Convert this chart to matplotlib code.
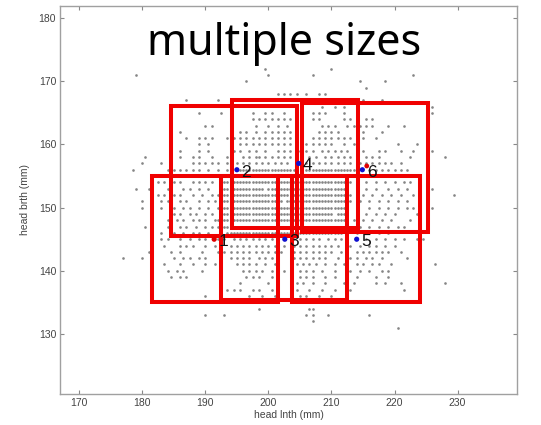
import matplotlib
matplotlib.use('Agg')
import matplotlib.pyplot as plt
import matplotlib.patches as mpatches

# head breadth rows (mm) and the head lengths (mm) found on each row
breadth_rows = [172, 171, 170, 169, 168, 167, 166, 165, 164, 163, 162, 161, 160,
                159, 158, 157, 156, 155, 154, 153, 152, 151, 150, 149, 148, 147,
                146, 145, 144, 143, 142, 141, 140, 139, 138, 137, 136, 135, 134,
                133, 132, 131]
length_rows = [
    [199.5, 210],
    [179, 200, 207, 223],
    [196.5, 214.5, 218.5],
    [215.5],
    [201.5, 202.5, 203.5, 204.5, 206, 208, 209],
    [187, 192, 198, 207.5, 215, 218],
    [208.5, 210.5, 212, 226],
    [189, 192.5, 197.5, 199.5, 200.5, 202.5, 207, 208, 209, 212, 226],
    [197.5, 198.5, 199.5, 200.5, 201.5, 202.5, 203.5, 204.5, 207, 208, 212, 213,
     214, 215.5, 216.5],
    [190, 191, 198, 200, 201.5, 203, 208.5, 209.5, 210.5, 212.5, 213.5, 214.5,
     215.5, 216.5, 219, 221.5],
    [186, 195.5, 196.5, 198, 199.5, 200.5, 201.5, 202.5, 203.5, 208, 209, 210,
     211, 215, 218],
    [187, 189, 190, 191, 193.5, 194.5, 195.5, 196.5, 197.5, 198.5, 199.5, 200.5,
     201.5, 202.5, 203.5, 204.5, 207, 208, 209, 210, 211, 212, 213, 215, 217],
    [189, 190.5, 195.5, 196.5, 197.5, 198.5, 199.5, 200.5, 201.5, 202.5, 203.5,
     206, 207, 208, 209, 210, 212, 213.5, 220.5, 223.5],
    [186, 189, 190.5, 194.5, 195.5, 197, 198, 199.5, 201.5, 202.5, 203.5, 205,
     206, 207, 208.5, 209.5, 210.5, 211.5, 212.5, 215, 217.5, 218.5, 221, 223, 226],
    [180.5, 186, 188, 189, 191, 193.5, 196, 197, 198, 198.5, 199.5, 200.5, 201.5,
     202.5, 203.5, 204.5, 206.5, 207.5, 209, 210, 211, 212, 213, 214, 215.5,
     216.5, 217.5, 222.5, 228],
    [180, 183, 188, 189, 190, 191, 192, 193.5, 195, 196, 197, 198, 199, 200, 201,
     202, 203, 204.5, 206, 207, 208, 209, 210, 211, 212, 213, 214.5, 215.5, 216.5,
     217.5, 218.5, 219.5, 221],
    [178.5, 184, 185, 186, 187, 188, 189, 190.5, 192, 193.5, 195, 195.5, 196,
     196.5, 197, 197.5, 198, 198.5, 199, 199.5, 200, 200.5, 201, 201.5, 202,
     202.5, 203, 203.5, 204, 206, 206.5, 207, 207.5, 208, 208.5, 209, 209.5, 210,
     210.5, 211, 211.5, 212, 212.5, 213, 213.5, 214, 216, 217, 218, 219, 220,
     221, 222],
    [186.5, 192.5, 193, 193.5, 194, 194.5, 195, 195.5, 196, 196.5, 197, 197.5,
     198, 198.5, 199, 199.5, 200, 200.5, 201, 201.5, 202, 202.5, 203, 205.5, 206,
     206.5, 207, 207.5, 208, 208.5, 209, 209.5, 210, 210.5, 211, 211.5, 212,
     212.5, 216, 220],
    [182.5, 183.5, 185, 186, 188, 189, 190, 191, 193, 193.5, 194, 194.5, 195,
     195.5, 196, 196.5, 197, 197.5, 198, 198.5, 199, 199.5, 200, 200.5, 201,
     201.5, 202, 202.5, 203, 203.5, 204, 204.5, 205, 205.5, 206, 206.5, 207,
     207.5, 208, 208.5, 209, 209.5, 210, 210.5, 211, 211.5, 212, 212.5, 213,
     215.5, 217, 218.5, 220, 221.5, 222.5],
    [179, 181, 184, 186.5, 187.5, 189, 190.5, 193, 193.5, 194, 194.5, 195, 195.5,
     196, 196.5, 197, 197.5, 198, 198.5, 199, 200, 200.5, 201, 201.5, 202, 202.5,
     203, 203.5, 204, 205, 205.5, 206, 206.5, 207, 207.5, 208, 208.5, 209, 209.5,
     210, 210.5, 211, 211.5, 212, 212.5, 214, 215.5, 217, 219, 220.5, 222, 226],
    [182.5, 183.5, 185, 186, 188, 189.5, 191, 192, 192.5, 193, 193.5, 194, 194.5,
     195, 195.5, 196, 196.5, 197, 197.5, 198, 198.5, 199, 199.5, 200, 200.5, 201,
     201.5, 202, 202.5, 203, 204, 204.5, 205, 205.5, 206, 206.5, 207, 207.5, 208,
     208.5, 209, 209.5, 210, 210.5, 211, 211.5, 212, 212.5, 213, 215, 216.5, 218,
     219.5, 221, 223, 229.5],
    [180, 183, 184, 186, 187, 189, 190.5, 191.5, 193, 193.5, 194, 194.5, 195,
     195.5, 196, 196.5, 197, 197.5, 198, 198.5, 199, 199.5, 200, 200.5, 201,
     201.5, 202, 203, 203.5, 204, 204.5, 205, 205.5, 206, 206.5, 207, 207.5, 208,
     208.5, 209, 209.5, 210, 210.5, 211, 211.5, 212, 212.5, 213, 214.5, 216,
     217.5, 219, 220.5, 222],
    [180, 183, 185, 186.5, 187.5, 189, 190.5, 192, 192.5, 193, 193.5, 194, 194.5,
     195, 195.5, 196, 196.5, 197, 197.5, 198, 198.5, 199, 199.5, 200, 200.5, 201,
     201.5, 202, 202.5, 203, 203.5, 204, 205, 205.5, 206, 206.5, 207, 207.5, 208,
     208.5, 209, 209.5, 210, 210.5, 211, 211.5, 212, 214, 216, 217.5, 219, 220.5,
     222, 223, 226],
    [185, 186, 187.5, 188.5, 190, 191, 192.5, 193, 193.5, 194, 194.5, 195, 195.5,
     196, 196.5, 197, 197.5, 198, 198.5, 199, 199.5, 200, 200.5, 201, 201.5, 202,
     202.5, 203, 203.5, 204, 204.5, 205, 205.5, 206, 206.5, 207, 207.5, 208,
     208.5, 209, 209.5, 210, 211, 211.5, 212, 212.5, 214, 215.5, 217, 218.5, 220,
     223.5],
    [184, 185.5, 186.5, 188, 189, 190, 191.5, 192, 192.5, 193, 193.5, 194, 194.5,
     195, 195.5, 196, 196.5, 197, 197.5, 198, 198.5, 199, 199.5, 200, 200.5, 201,
     201.5, 202, 202.5, 203, 203.5, 204, 204.5, 205, 205.5, 206, 206.5, 207,
     207.5, 208, 208.5, 209, 209.5, 210, 210.5, 211, 211.5, 212, 213.5, 215,
     216.5, 218, 219.5, 222.5],
    [180.5, 184, 186, 187, 188.5, 190, 191, 192, 192.5, 193, 193.5, 194, 194.5,
     195, 195.5, 196, 196.5, 197, 197.5, 198, 198.5, 199, 199.5, 200, 200.5, 201,
     201.5, 202, 202.5, 203, 203.5, 204, 204.5, 205, 205.5, 206, 206.5, 207,
     207.5, 208, 208.5, 209, 209.5, 210, 212, 213.5, 214.5, 216, 217.5, 219,
     220.5, 221.5],
    [183, 185, 186.5, 188, 189, 190.5, 193.5, 194, 194.5, 195, 195.5, 196, 196.5,
     197, 197.5, 198, 198.5, 199, 199.5, 200, 200.5, 201, 201.5, 202, 202.5, 203,
     203.5, 204, 204.5, 205, 205.5, 206, 206.5, 207, 207.5, 208, 208.5, 209,
     209.5, 210, 210.5, 211, 211.5, 214, 216, 217.5, 219],
    [183, 184, 186, 187.5, 189, 190, 192, 193, 194.5, 195.5, 196.5, 197.5, 198.5,
     199.5, 200.5, 201.5, 204, 205, 206, 207, 208, 209.5, 210.5, 211.5, 215.5,
     217, 218.5, 220, 221.5, 223.5, 224.5],
    [183.5, 186, 187, 188, 190, 191.5, 192.5, 194, 195, 196, 197, 198, 199, 200,
     201, 202.5, 204, 205, 206, 207, 208, 209, 210, 211, 213, 214.5, 216, 217,
     218.5, 220, 224],
    [181, 184.5, 186, 189.5, 192, 193, 194, 195, 196, 197, 198, 199, 200, 201,
     202, 204, 205, 206, 207, 208, 209, 210, 211.5, 214, 215, 216, 217, 218, 219,
     221],
    [177, 180, 185, 186.5, 187.5, 189, 190, 192.5, 194, 195, 196, 197, 198.5,
     199.5, 200.5, 201.5, 204, 205, 206, 207, 208, 209, 211, 213, 214, 215.5,
     216.5, 218, 222],
    [183.5, 186, 188, 190, 191.5, 195, 196, 197, 198, 199.5, 201, 204.5, 205.5,
     206.5, 207.5, 209, 210.5, 212, 214, 215, 216.5, 217.5, 219.5, 226.5],
    [184, 185.5, 186.5, 189.5, 192.5, 196, 197, 198, 199, 200.5, 202.5, 205, 206,
     207, 208.5, 210.5, 213, 214.5, 216, 218, 219],
    [184.5, 186, 187, 196.5, 197.5, 198.5, 200.5, 205, 206, 207, 209, 210.5, 214,
     217, 219],
    [195.5, 200, 204.5, 205.5, 207, 209, 212, 213.5, 217, 218.5, 221, 228],
    [193.5, 194.5, 195.5, 197.5, 198.5, 200.5, 204.5, 206.5, 208.5, 210.5, 213,
     221.5],
    [190, 197, 199, 201, 205, 206, 208, 210, 212.5],
    [205.5, 208.5, 211.5],
    [198.5, 206.5, 207],
    [190, 193, 206, 207, 209.5, 216],
    [207],
    [220.5],
]

# windows: centre, width, height (mm)
box_cx = [191.5, 194.5, 202.5, 204.2, 213.9, 215.3]
box_cy = [145.0, 155.8, 145.2, 156.9, 145.0, 156.4]
box_w = [20.0, 20.0, 20.0, 20.0, 20.2, 20.0]
box_h = [20.0, 20.5, 19.6, 20.4, 20.0, 20.4]

# numbered points
pt_label = ['1', '2', '3', '4', '5', '6']
pt_x = [191.4, 195.0, 202.6, 204.8, 214.0, 214.9]
pt_y = [145.0, 156.0, 145.0, 157.0, 145.0, 156.0]
pt_color = ['#e00000', '#1010d0', '#1010d0', '#1010d0', '#1010d0', '#1010d0']
extra_x = [215.6]
extra_y = [156.6]

xs, ys = [], []
for b, row in zip(breadth_rows, length_rows):
    xs.extend(row)
    ys.extend([b] * len(row))

plt.rcParams['font.family'] = ['Liberation Sans', 'DejaVu Sans']

fig = plt.figure(figsize=(5.41, 4.25), dpi=100, facecolor='white')
ax = fig.add_axes([0.1115, 0.073, 0.845, 0.914])
ax.set_xlim(167, 239.5)
ax.set_ylim(120.5, 182)

ax.plot(xs, ys, 'o', ms=1.9, mfc='#858585', mec='none', zorder=2)

for cx, cy, w, h in zip(box_cx, box_cy, box_w, box_h):
    ax.add_patch(mpatches.Rectangle((cx - w / 2, cy - h / 2), w, h, fill=False,
                                    edgecolor='#f00000', linewidth=2.9, zorder=3))

ax.scatter(pt_x, pt_y, s=14, c=pt_color, edgecolors='none', zorder=4)
ax.scatter(extra_x, extra_y, s=12, c='#e00000', edgecolors='none', zorder=4)
for lab, x, y in zip(pt_label, pt_x, pt_y):
    ax.text(x + 0.7, y - 0.4, lab, ha='left', va='center', fontsize=12.5,
            color='#111111', zorder=5)

ax.set_xticks([170, 180, 190, 200, 210, 220, 230])
ax.set_yticks([130, 140, 150, 160, 170, 180])
ax.tick_params(direction='in', length=3, width=0.8, colors='#888888',
               labelcolor='#444444', labelsize=7.5, top=True, right=True, pad=3)
for s in ax.spines.values():
    s.set_color('#a0a0a0')
    s.set_linewidth(1.0)
ax.set_xlabel('head lnth (mm)', fontsize=7.5, color='#444444', labelpad=1)
ax.set_ylabel('head brth (mm)', fontsize=7.5, color='#444444', labelpad=6)

fig.text(0.526, 0.897, 'multiple sizes', ha='center', va='center',
         fontsize=31, color='black', family=['Noto Sans', 'DejaVu Sans'])

fig.savefig('out.png', dpi=100, facecolor='white')
